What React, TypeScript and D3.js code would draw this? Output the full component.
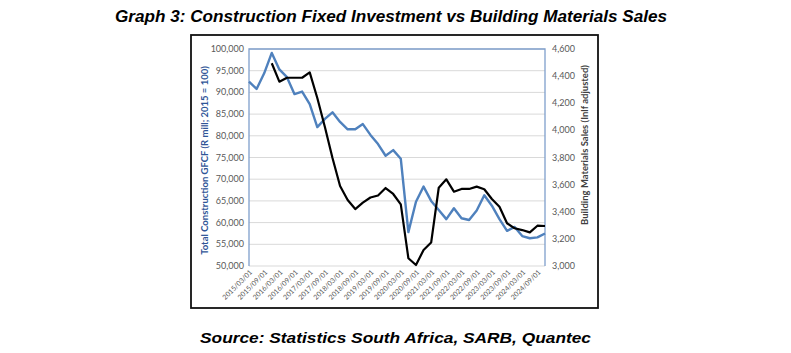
import React, { useRef, useEffect } from 'react';
import * as d3 from 'd3';

const quarters: string[] = [
  '2015/03/01', '2015/06/01', '2015/09/01', '2015/12/01',
  '2016/03/01', '2016/06/01', '2016/09/01', '2016/12/01',
  '2017/03/01', '2017/06/01', '2017/09/01', '2017/12/01',
  '2018/03/01', '2018/06/01', '2018/09/01', '2018/12/01',
  '2019/03/01', '2019/06/01', '2019/09/01', '2019/12/01',
  '2020/03/01', '2020/06/01', '2020/09/01', '2020/12/01',
  '2021/03/01', '2021/06/01', '2021/09/01', '2021/12/01',
  '2022/03/01', '2022/06/01', '2022/09/01', '2022/12/01',
  '2023/03/01', '2023/06/01', '2023/09/01', '2023/12/01',
  '2024/03/01', '2024/06/01', '2024/09/01', '2024/12/01',
];

// Total construction GFCF (R mill; 2015 = 100), left axis
const gfcf: number[] = [
  92500, 90800, 94400, 99100, 95300, 93500, 89600, 90200,
  87300, 82000, 83900, 85400, 83200, 81500, 81500, 82700,
  80200, 78100, 75400, 76700, 74700, 57800, 64800, 68300,
  65000, 62900, 60800, 63300, 61000, 60600, 62800, 66300,
  63900, 60800, 58100, 59000, 56900, 56400, 56600, 57500,
];

// Building materials sales (inflation adjusted), right axis; starts 2015Q4
const materials: (number | null)[] = [
  null, null, null, 4495, 4359, 4388, 4388, 4388,
  4428, 4239, 4025, 3796, 3590, 3487, 3420, 3467,
  3505, 3520, 3575, 3531, 3455, 3057, 3007, 3118,
  3173, 3577, 3639, 3548, 3568, 3568, 3585, 3566,
  3494, 3437, 3315, 3278, 3265, 3248, 3297, 3295,
];

const leftTicks = d3.range(50000, 100001, 5000);
const rightTicks = d3.range(3000, 4601, 200);
const xLabels = quarters.filter((_, i) => i % 2 === 0);

const W = 791;
const H = 353;
const plot = { left: 249, right: 545, top: 49, bottom: 266 };

const App: React.FC = () => {
  const ref = useRef<SVGSVGElement | null>(null);

  useEffect(() => {
    const svg = d3.select(ref.current);
    svg.selectAll('*').remove();

    const x = d3.scalePoint<string>().domain(quarters).range([plot.left, plot.right]);
    const yL = d3.scaleLinear().domain([50000, 100000]).range([plot.bottom, plot.top]);
    const yR = d3.scaleLinear().domain([3000, 4600]).range([plot.bottom, plot.top]);

    svg.append('rect').attr('width', W).attr('height', H).attr('fill', '#fff');

    // title
    svg.append('text')
      .attr('x', 391).attr('y', 22)
      .attr('text-anchor', 'middle')
      .attr('textLength', 552).attr('lengthAdjust', 'spacingAndGlyphs')
      .style('font-family', 'Liberation Sans, Arial, sans-serif')
      .style('font-weight', 'bold').style('font-style', 'italic')
      .style('font-size', '16px').attr('fill', '#000')
      .text('Graph 3: Construction Fixed Investment vs Building Materials Sales');

    // outer box
    svg.append('rect')
      .attr('x', 191).attr('y', 35).attr('width', 407).attr('height', 273)
      .attr('fill', 'none').attr('stroke', '#111').attr('stroke-width', 1.8);

    // gridlines
    svg.append('g').selectAll('line').data(leftTicks.slice(1)).enter().append('line')
      .attr('x1', plot.left).attr('x2', plot.right)
      .attr('y1', d => yL(d)).attr('y2', d => yL(d))
      .attr('stroke', '#d9d9d9').attr('stroke-width', 1);

    // plot border: bottom gray, left/top/right blue
    svg.append('line')
      .attr('x1', plot.left).attr('x2', plot.right)
      .attr('y1', plot.bottom).attr('y2', plot.bottom)
      .attr('stroke', '#d9d9d9').attr('stroke-width', 1);
    svg.append('path')
      .attr('d', `M${plot.left},${plot.bottom}V${plot.top}H${plot.right}V${plot.bottom}`)
      .attr('fill', 'none').attr('stroke', '#7f9fcc').attr('stroke-width', 1.3);

    const tickFont = (sel: d3.Selection<SVGTextElement, any, any, any>) =>
      sel.style('font-family', 'Lato, sans-serif').attr('fill', '#595959');

    // left ticks
    svg.append('g').selectAll('text').data(leftTicks).enter().append('text')
      .attr('x', 244).attr('y', d => yL(d) + 3)
      .attr('text-anchor', 'end').style('font-size', '9px')
      .call(tickFont)
      .text(d => d3.format(',')(d));

    // right ticks
    svg.append('g').selectAll('text').data(rightTicks).enter().append('text')
      .attr('x', 552).attr('y', d => yR(d) + 3)
      .attr('text-anchor', 'start').style('font-size', '9px')
      .call(tickFont)
      .text(d => d3.format(',')(d));

    // x labels
    svg.append('g').selectAll('text').data(xLabels).enter().append('text')
      .attr('transform', d => `translate(${(x(d) as number) + 2},${plot.bottom + 5}) rotate(-45)`)
      .attr('text-anchor', 'end').attr('dy', '0.35em').style('font-size', '7px')
      .call(tickFont)
      .text(d => d);

    // axis titles
    svg.append('text')
      .attr('transform', 'translate(208,160.5) rotate(-90)')
      .attr('text-anchor', 'middle')
      .style('font-family', 'Lato, sans-serif').style('font-weight', 'bold').style('font-size', '9.5px')
      .attr('fill', '#2f5597')
      .text('Total Construction GFCF (R mill; 2015 = 100)');

    svg.append('text')
      .attr('transform', 'translate(588,145) rotate(-90)')
      .attr('text-anchor', 'middle')
      .style('font-family', 'Lato, sans-serif').style('font-weight', 'bold').style('font-size', '9.5px')
      .attr('fill', '#404040')
      .text('Building Materials Sales (Inlf adjusted)');

    // series
    const blueLine = d3.line<number>()
      .x((_, i) => x(quarters[i]) as number)
      .y(d => yL(d));
    svg.append('path').datum(gfcf)
      .attr('d', blueLine)
      .attr('fill', 'none').attr('stroke', '#4f81bd').attr('stroke-width', 2.4)
      .attr('stroke-linejoin', 'round');

    const blackLine = d3.line<number | null>()
      .defined(d => d !== null)
      .x((_, i) => x(quarters[i]) as number)
      .y(d => yR(d as number));
    svg.append('path').datum(materials)
      .attr('d', blackLine)
      .attr('fill', 'none').attr('stroke', '#000').attr('stroke-width', 2.2)
      .attr('stroke-linejoin', 'round');

    // source
    svg.append('text')
      .attr('x', 395.5).attr('y', 343)
      .attr('text-anchor', 'middle')
      .attr('textLength', 391).attr('lengthAdjust', 'spacingAndGlyphs')
      .style('font-family', 'Liberation Sans, Arial, sans-serif')
      .style('font-weight', 'bold').style('font-style', 'italic')
      .style('font-size', '15px').attr('fill', '#000')
      .text('Source: Statistics South Africa, SARB, Quantec');
  }, []);

  return (
    <svg
      ref={ref}
      width={W}
      height={H}
      style={{ position: 'absolute', left: 0, top: 0, display: 'block' }}
    />
  );
};

export default App;
